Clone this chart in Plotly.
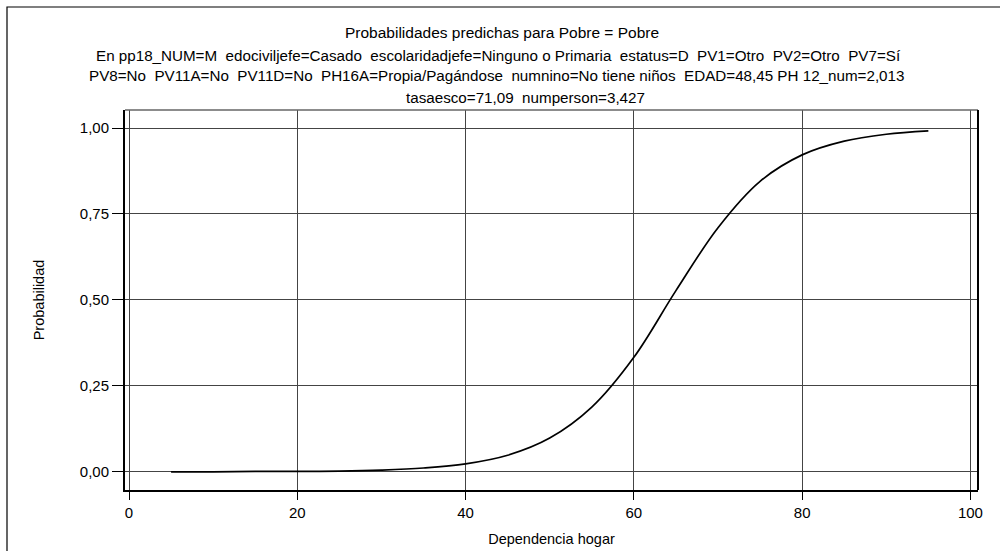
import plotly.graph_objects as go

# valores
dependencia = [5, 10, 15, 20, 25, 30, 35, 40, 45, 50, 55, 60, 65, 70, 75, 80, 85, 90, 95]
probabilidad = [0.000, 0.000, 0.001, 0.001, 0.002, 0.005, 0.011, 0.023, 0.048, 0.098,
                0.188, 0.333, 0.527, 0.710, 0.845, 0.922, 0.962, 0.982, 0.992]

x_ticks = [0, 20, 40, 60, 80, 100]
y_ticks = [0.0, 0.25, 0.5, 0.75, 1.0]

titulo = "Probabilidades predichas para Pobre = Pobre"
subtitulo = [
    "En pp18_NUM=M  edociviljefe=Casado  escolaridadjefe=Ninguno o Primaria  estatus=D  PV1=Otro  PV2=Otro  PV7=Sí",
    "PV8=No  PV11A=No  PV11D=No  PH16A=Propia/Pagándose  numnino=No tiene niños  EDAD=48,45 PH 12_num=2,013",
    "tasaesco=71,09  numperson=3,427",
]

fuente = "Liberation Sans, Arial"

H, W = 551, 1000
L, R, T, B = 125, 22, 110, 61
ph = H - T - B
pw = W - L - R


def py(y_px):
    # píxel vertical -> coordenada paper
    return (H - B - y_px) / ph


def px(x_px):
    return (x_px - L) / pw


fig = go.Figure()
fig.add_trace(go.Scatter(x=dependencia, y=probabilidad, mode="lines",
                         line=dict(color="black", width=1.7, shape="spline"),
                         showlegend=False))

fig.update_layout(
    width=W, height=H,
    margin=dict(l=L, r=R, t=T, b=B),
    paper_bgcolor="white", plot_bgcolor="white",
    separators=",.",
    font=dict(family=fuente, color="black", size=15),
)

fig.update_xaxes(
    range=[-0.475, 100.9], tickvals=x_ticks, automargin=False,
    showgrid=True, gridcolor="#444", gridwidth=1, zeroline=False,
    showline=True, linecolor="black", linewidth=2,
    ticks="outside", ticklen=8, tickcolor="black",
    tickfont=dict(size=15),
    title=dict(text="Dependencia hogar", font=dict(size=14.5), standoff=14),
)
fig.update_yaxes(
    range=[-0.053, 1.0525], tickvals=y_ticks, tickformat=".2f", automargin=False,
    showgrid=True, gridcolor="#444", gridwidth=1, zeroline=False,
    showline=True, linecolor="black", linewidth=2,
    ticks="outside", ticklen=11, tickcolor="black",
    tickfont=dict(size=15),
    title=dict(text="Probabilidad", font=dict(size=14.5), standoff=32),
)

# marco superior y derecho del área de trazado
fig.add_shape(type="line", xref="paper", yref="paper", x0=0, x1=1, y0=1, y1=1,
              line=dict(color="#666", width=1.5))
fig.add_shape(type="line", xref="paper", yref="paper", x0=1, x1=1, y0=0, y1=1,
              line=dict(color="black", width=2))

# borde exterior de la figura
fig.add_shape(type="rect", xref="paper", yref="paper",
              x0=px(7), x1=px(1010), y0=py(560), y1=py(7),
              line=dict(color="black", width=1.2), layer="below")

fig.add_annotation(text=titulo, xref="paper", yref="paper", x=px(502), y=py(33),
                   yanchor="middle", showarrow=False, font=dict(size=15.5))
centros = [498, 496, 525]
for i, linea in enumerate(subtitulo):
    fig.add_annotation(text=linea.replace("  ", " \u00a0"), xref="paper", yref="paper",
                       x=px(centros[i]), y=py(55 + 21 * i), yanchor="middle",
                       showarrow=False, font=dict(size=15.2))

fig.write_html("out.html", config={"displayModeBar": False},
               post_script="document.body.style.margin='0';")
